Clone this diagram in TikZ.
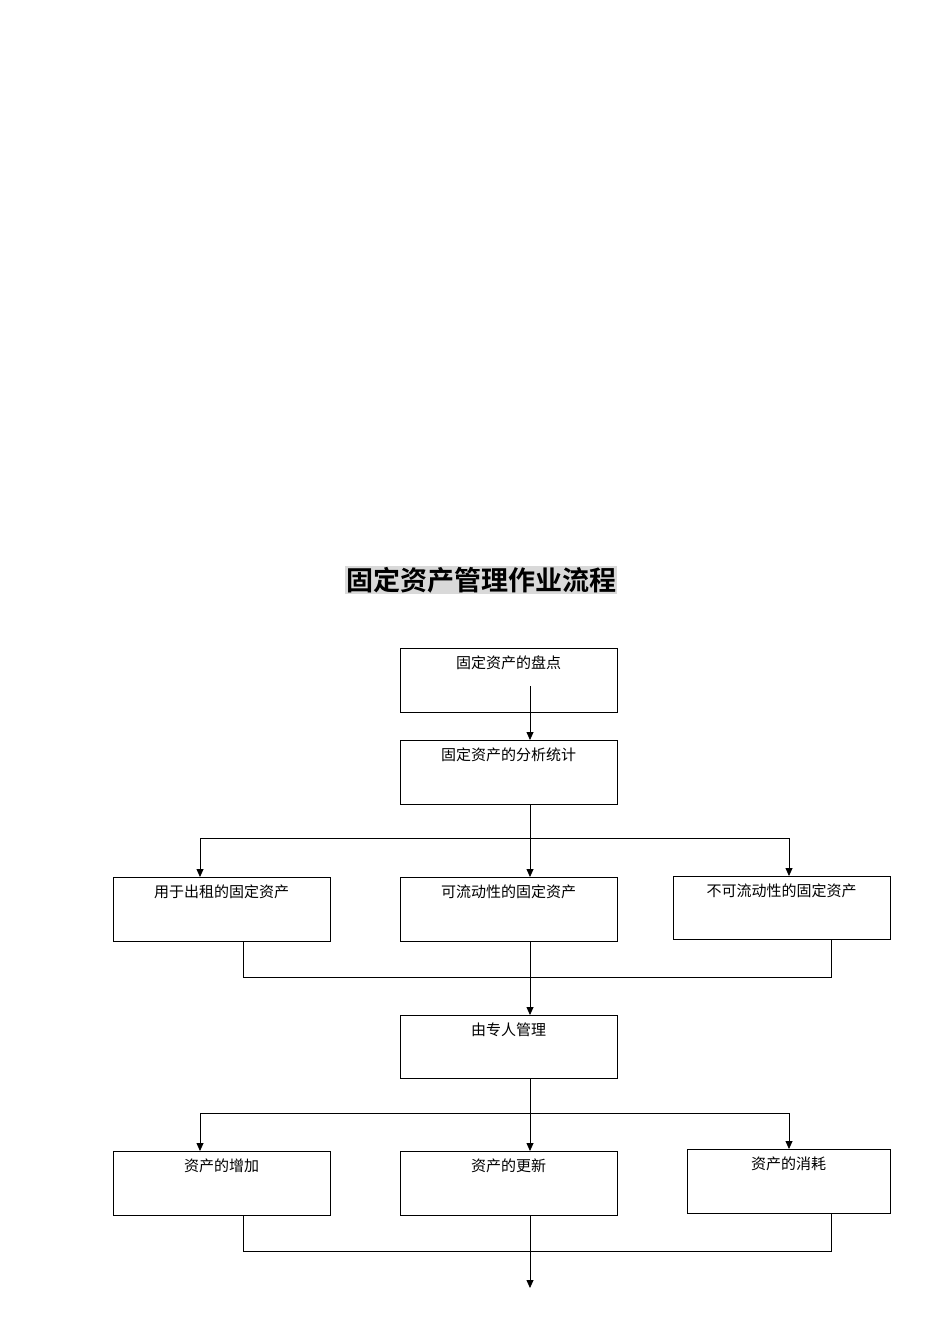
\documentclass[tikz,border=0pt]{standalone}
\usepackage{fontspec}
\newfontfamily\cjk{Noto Sans CJK SC}
\newfontfamily\cjkb{Noto Sans CJK SC Bold}
\usetikzlibrary{arrows.meta}
\begin{document}
\begin{tikzpicture}[x=1pt,y=-1pt,
  box/.style={draw,line width=0.8pt,inner sep=0pt},
  lbl/.style={font=\cjk\fontsize{15}{16}\selectfont,inner sep=0pt},
  ln/.style={line width=0.8pt},
  arr/.style={line width=0.8pt,-{Triangle[length=8pt,width=7pt]}}]
\useasboundingbox (0,0) rectangle (950,1344);
\node[fill=gray!30,inner sep=1pt,font=\cjkb\fontsize{27}{30}\selectfont] (title) at (481,580) {固定资产管理作业流程};
\newcommand\bx[6]{\path[box] (#2,#3) rectangle (#4,#5); \coordinate (#1) at ({(#2+#4)/2},#3); \node[lbl] (#1t) at ({(#2+#4)/2},{#3+15}) {#6};}
\bx{b1}{400}{648}{617}{712}{固定资产的盘点}
\bx{b2}{400}{740}{617}{804}{固定资产的分析统计}
\bx{b3}{113}{877}{330}{941}{用于出租的固定资产}
\bx{b4}{400}{877}{617}{941}{可流动性的固定资产}
\bx{b5}{673}{876}{890}{939}{不可流动性的固定资产}
\bx{b6}{400}{1015}{617}{1078}{由专人管理}
\bx{b7}{113}{1151}{330}{1215}{资产的增加}
\bx{b8}{400}{1151}{617}{1215}{资产的更新}
\bx{b9}{687}{1149}{890}{1213}{资产的消耗}
\coordinate (s1) at (530,686); \coordinate (t2) at (530,740);
\draw[arr] (s1) -- (t2);
\coordinate (h1) at (530,838);
\draw[ln] (530,804) -- (h1);
\draw[ln] (200,838) -- (789,838);
\draw[arr] (200,838) -- (200,877);
\draw[arr] (h1) -- (530,877);
\draw[arr] (789,838) -- (789,876);
\draw[ln] (243,941) -- (243,977) -- (831,977) -- (831,939);
\draw[arr] (530,941) -- (530,1015);
\draw[ln] (530,1078) -- (530,1113);
\draw[ln] (200,1113) -- (789,1113);
\draw[arr] (200,1113) -- (200,1151);
\draw[arr] (530,1113) -- (530,1151);
\draw[arr] (789,1113) -- (789,1149);
\draw[ln] (243,1215) -- (243,1251) -- (831,1251) -- (831,1213);
\coordinate (end) at (530,1288);
\draw[arr] (530,1215) -- (end);
\end{tikzpicture}
\end{document}
